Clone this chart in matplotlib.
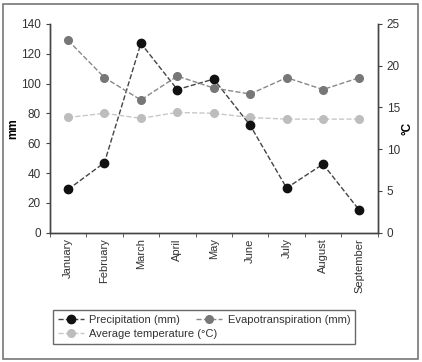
import numpy as np
import matplotlib
matplotlib.use('Agg')
import matplotlib.pyplot as plt
from matplotlib.patches import Rectangle

plt.rcParams['font.family'] = ['Liberation Sans', 'DejaVu Sans']

months = ['January', 'February', 'March', 'April', 'May', 'June', 'July', 'August', 'September']
precip = [29, 47, 127, 96, 103, 72, 30, 46, 15]
evapo = [129, 104, 89, 105, 97, 93, 104, 96, 104]
temp = [13.8, 14.3, 13.7, 14.4, 14.3, 13.8, 13.6, 13.6, 13.6]

fig = plt.figure(figsize=(4.22, 3.62), dpi=100)
fig.patches.append(Rectangle((0.006, 0.008), 0.985, 0.98, transform=fig.transFigure,
                             fill=False, edgecolor='#777777', lw=1.2))

ax = fig.add_axes([0.118, 0.357, 0.777, 0.577])
ax2 = ax.twinx()

x = np.arange(len(months))
l1, = ax.plot(x, precip, ls='--', color='#444444', lw=1, marker='o', ms=6,
              mfc='#111111', mec='#111111', label='Precipitation (mm)')
l2, = ax.plot(x, evapo, ls='--', color='#888888', lw=1, marker='o', ms=5.5,
              mfc='#777777', mec='#777777', label='Evapotranspiration (mm)')
l3, = ax2.plot(x, temp, ls='--', color='#c8c8c8', lw=1, marker='o', ms=5.5,
               mfc='#bdbdbd', mec='#bdbdbd', label='Average temperature (°C)')
ax.set_zorder(ax2.get_zorder() + 1)
ax.patch.set_visible(False)

ax.set_xlim(-0.5, len(months) - 0.5)
ax.set_ylim(0, 140)
ax.set_yticks(range(0, 141, 20))
ax2.set_ylim(0, 25)
ax2.set_yticks(range(0, 26, 5))

ax.set_xticks(x)
ax.set_xticklabels(months, rotation=90, fontsize=8, color='#333333')
ax.set_xticks(np.arange(-0.5, len(months)), minor=True)
ax.tick_params(axis='x', which='major', length=0, pad=4)
ax.tick_params(axis='x', which='minor', length=3, color='#444444')
ax.tick_params(axis='y', labelsize=8.5, labelcolor='#333333', length=3, color='#444444')
ax2.tick_params(axis='y', labelsize=8.5, labelcolor='#333333', length=3, color='#444444')

for a in (ax, ax2):
    a.spines['top'].set_visible(False)
    for s in ('left', 'right', 'bottom'):
        a.spines[s].set_color('#444444')
        a.spines[s].set_linewidth(1)

ax.set_ylabel('mm', fontsize=8.5, fontweight='bold', labelpad=1)
ax2.set_ylabel('°C', fontsize=8.5, fontweight='bold', labelpad=1)

# column-first fill: l1, l3 in column one, l2 in column two
# negative column spacing lets row 2 text run under column two, like the original
leg = fig.legend(handles=[l1, l3, l2], loc='lower left', bbox_to_anchor=(0.113, 0.035),
                 ncol=2, fontsize=8, frameon=True, fancybox=False, edgecolor='#444444',
                 handlelength=2.3, handletextpad=0.5, columnspacing=-1.9,
                 borderpad=0.45, labelspacing=0.35)
leg.get_frame().set_linewidth(1)
for t in leg.get_texts():
    t.set_color('#333333')

fig.savefig('out.png', dpi=100)
